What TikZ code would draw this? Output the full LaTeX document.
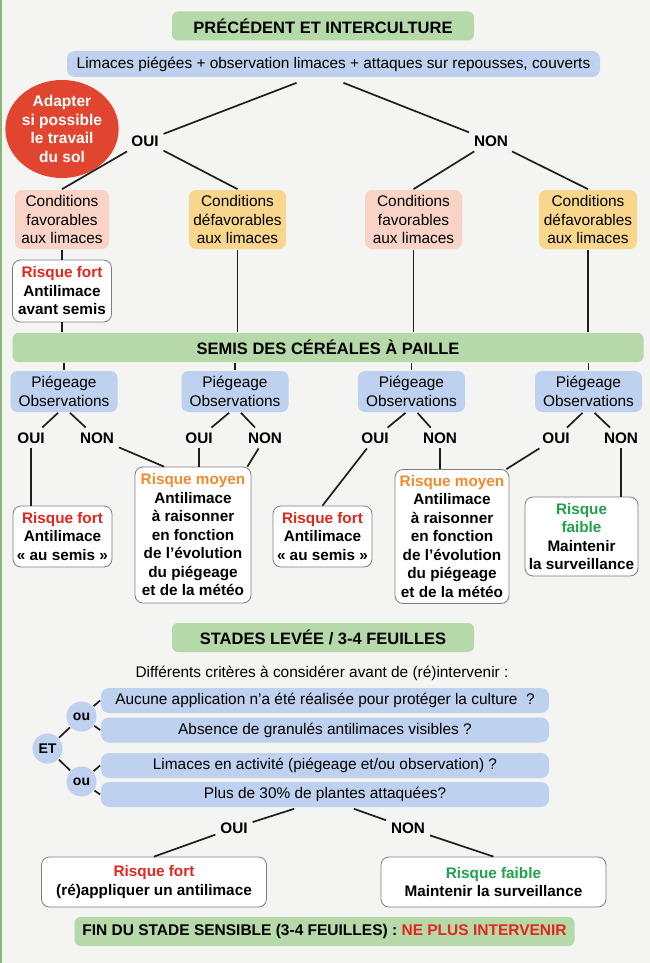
\documentclass[tikz,border=0pt]{standalone}
\usepackage{fontspec}
\setmainfont{Liberation Sans}
\usepackage{tikz}
\usetikzlibrary{shapes.geometric, positioning}
\definecolor{fond}{HTML}{F4F4F2}
\definecolor{vertetape}{HTML}{B6D9A9}
\definecolor{vertbord}{HTML}{86B874}
\definecolor{bleuq}{HTML}{BED1EF}
\definecolor{rosecond}{HTML}{F9D4C6}
\definecolor{jaunecond}{HTML}{F8D68C}
\definecolor{rougecercle}{HTML}{E1452F}
\definecolor{rougetxt}{HTML}{E4261C}
\definecolor{orangetxt}{HTML}{F28B2D}
\definecolor{verttxt}{HTML}{1FA24A}
\definecolor{grisbord}{HTML}{7E7E7E}
\definecolor{trait}{HTML}{1E1E1E}
\newcommand{\taille}[1]{\fontsize{#1}{18.5}\selectfont}
\tikzstyle{etape} = [rectangle, rounded corners=6pt, fill=vertetape, inner sep=0pt, minimum height=29pt, font=\bfseries\taille{16.5}]
\tikzstyle{question} = [rectangle, rounded corners=8pt, fill=bleuq, inner sep=0pt, minimum height=26pt, text centered]
\tikzstyle{condition} = [rectangle, rounded corners=7pt, inner sep=0pt, minimum height=59pt, align=center]
\tikzstyle{piegeage} = [rectangle, rounded corners=7pt, fill=bleuq, inner sep=0pt, minimum width=107pt, minimum height=41pt, align=center]
\tikzstyle{risque} = [rectangle, rounded corners=8pt, draw=grisbord, line width=0.8pt, fill=white, inner sep=0pt, align=center, font=\bfseries\taille{15.3}]
\tikzstyle{reponse} = [font=\bfseries\taille{15.3}, inner sep=2pt, outer sep=3pt]
\tikzstyle{bulle} = [circle, fill=bleuq, inner sep=0pt, minimum size=30pt, font=\bfseries\taille{14}]

\begin{document}
\begin{tikzpicture}[x=1pt, y=-1pt, line width=1.7pt, draw=trait, font=\taille{15.4}]
        \fill[fond] (0,0) rectangle (650,963);
        \fill[vertbord] (0,0) rectangle (2,963);
        \useasboundingbox (0,0) rectangle (650,963);

        \node[etape, minimum width=302pt] (precedent) at (323,26) {PRÉCÉDENT ET INTERCULTURE};
        \node[question, minimum width=533pt] (limaces) at (333.5,64) {Limaces piégées + observation limaces + attaques sur repousses, couverts};
        \node[ellipse, fill=rougecercle, inner sep=0pt, minimum width=100pt, minimum height=98pt, align=center, text=white, font=\bfseries\taille{15.5}] (adapter) at (62,129) {Adapter\\si possible\\le travail\\du sol};
        \node[reponse] (oui1) at (145,141) {OUI};
        \node[reponse] (non1) at (491,141) {NON};

        \node[condition, fill=rosecond, minimum width=94pt] (cond1) at (62,219.5) {Conditions\\favorables\\aux limaces};
        \node[condition, fill=jaunecond, minimum width=97pt] (cond2) at (237.5,219.5) {Conditions\\défavorables\\aux limaces};
        \node[condition, fill=rosecond, minimum width=97pt] (cond3) at (413.5,219.5) {Conditions\\favorables\\aux limaces};
        \node[condition, fill=jaunecond, minimum width=98pt] (cond4) at (588,219.5) {Conditions\\défavorables\\aux limaces};
        \node[risque, minimum width=99pt, minimum height=62pt] (avant) at (62,291) {\textcolor{rougetxt}{Risque fort}\\Antilimace\\avant semis};

        \node[etape, minimum width=631pt] (semis) at (328,347.5) {SEMIS DES CÉRÉALES À PAILLE};
        \node[piegeage] (piege1) at (64,391.5) {Piégeage\\Observations};
        \node[piegeage] (piege2) at (235,391.5) {Piégeage\\Observations};
        \node[piegeage] (piege3) at (411.5,391.5) {Piégeage\\Observations};
        \node[piegeage] (piege4) at (588.5,391.5) {Piégeage\\Observations};

        \node[reponse] (oui11) at (31,438) {OUI};
        \node[reponse] (non11) at (97,438) {NON};
        \node[reponse] (oui12) at (199,438) {OUI};
        \node[reponse] (non12) at (265,438) {NON};
        \node[reponse] (oui13) at (375,438) {OUI};
        \node[reponse] (non13) at (440,438) {NON};
        \node[reponse] (oui14) at (556,438) {OUI};
        \node[reponse] (non14) at (621,438) {NON};

        \node[risque, minimum width=99pt, minimum height=61pt] (fort1) at (62.5,536.5) {\textcolor{rougetxt}{Risque fort}\\Antilimace\\« au semis »};
        \node[risque, minimum width=116pt, minimum height=136pt] (moyen1) at (193,535) {\textcolor{orangetxt}{Risque moyen}\\Antilimace\\à raisonner\\en fonction\\de l’évolution\\du piégeage\\et de la météo};
        \node[risque, minimum width=99pt, minimum height=61pt] (fort2) at (322.5,536.5) {\textcolor{rougetxt}{Risque fort}\\Antilimace\\« au semis »};
        \node[risque, minimum width=114pt, minimum height=134pt] (moyen2) at (452,536.5) {\textcolor{orangetxt}{Risque moyen}\\Antilimace\\à raisonner\\en fonction\\de l’évolution\\du piégeage\\et de la météo};
        \node[risque, minimum width=113pt, minimum height=79pt] (faible1) at (581.5,536.5) {\textcolor{verttxt}{Risque}\\\textcolor{verttxt}{faible}\\Maintenir\\la surveillance};

        \node[etape, minimum width=302pt] (stades) at (323,637.5) {STADES LEVÉE / 3-4 FEUILLES};
        \node (criteres) at (322,673) {Différents critères à considérer avant de (ré)intervenir :};
        \node[question, minimum width=448pt, minimum height=25pt] (c1) at (325,700.5) {Aucune application n’a été réalisée pour protéger la culture~~?};
        \node[question, minimum width=448pt, minimum height=25pt] (c2) at (325,730) {Absence de granulés antilimaces visibles ?};
        \node[question, minimum width=448pt, minimum height=25pt] (c3) at (325,765.5) {Limaces en activité (piégeage et/ou observation) ?};
        \node[question, minimum width=448pt, minimum height=25pt] (c4) at (325,794.5) {Plus de 30\% de plantes attaquées?};
        \node[bulle] (ou1) at (81.5,716.5) {ou};
        \node[bulle] (ou2) at (81.5,781.5) {ou};
        \node[bulle] (et) at (47.5,748.5) {ET};

        \node[reponse] (ouif) at (234,828) {OUI};
        \node[reponse] (nonf) at (408,828) {NON};
        \node[risque, minimum width=225pt, minimum height=50pt] (fortf) at (154,882) {\textcolor{rougetxt}{Risque fort}\\(ré)appliquer un antilimace};
        \node[risque, minimum width=225pt, minimum height=50pt] (faiblef) at (493.5,882) {\textcolor{verttxt}{Risque faible}\\Maintenir la surveillance};
        \node[etape, minimum width=500pt, font=\bfseries\taille{15.5}] (fin) at (324.5,931.5) {FIN DU STADE SENSIBLE (3-4 FEUILLES) : \textcolor{rougetxt}{NE PLUS INTERVENIR}};

        \draw ([xshift=-37pt,yshift=-5pt]limaces.south) -- (oui1);
        \draw ([xshift=10pt,yshift=-5pt]limaces.south) -- (non1);
        \draw (oui1) -- (cond1.north);
        \draw (oui1) -- (cond2.north);
        \draw (non1) -- (cond3.north);
        \draw (non1) -- (cond4.north);
        \draw (cond1) -- (avant);
        \draw (avant) -- (avant |- semis.north);
        \draw (cond2) -- (cond2 |- semis.north);
        \draw (cond3) -- (cond3 |- semis.north);
        \draw (cond4) -- (cond4 |- semis.north);
        \draw (piege1 |- semis.south) -- (piege1);
        \draw (piege2 |- semis.south) -- (piege2);
        \draw (piege3 |- semis.south) -- (piege3);
        \draw (piege4 |- semis.south) -- (piege4);

        \draw ([xshift=-6pt]piege1.south) -- (oui11);
        \draw ([xshift=6pt]piege1.south) -- (non11);
        \draw ([xshift=-6pt]piege2.south) -- (oui12);
        \draw ([xshift=6pt]piege2.south) -- (non12);
        \draw ([xshift=-6pt]piege3.south) -- (oui13);
        \draw ([xshift=6pt]piege3.south) -- (non13);
        \draw ([xshift=-6pt]piege4.south) -- (oui14);
        \draw ([xshift=6pt]piege4.south) -- (non14);

        \draw (oui11) -- (oui11 |- fort1.north);
        \draw (non11) -- ([xshift=-29pt]moyen1.north);
        \draw (oui12) -- (oui12 |- moyen1.north);
        \draw (non12) -- ([xshift=-4pt]moyen1.north east);
        \draw (oui13) -- (fort2.north);
        \draw (non13) -- (non13 |- moyen2.north);
        \draw (oui14) -- ([xshift=-3pt]moyen2.north east);
        \draw (non14) -- (non14 |- faible1.north);

        \draw (et) -- (ou1);
        \draw (et) -- (ou2);
        \draw (ou1) -- (c1.west);
        \draw (ou1) -- (c2.west);
        \draw (ou2) -- (c3.west);
        \draw (ou2) -- (c4.west);

        \draw ([xshift=-31pt,yshift=-1pt]c4.south) -- (ouif);
        \draw ([xshift=29pt,yshift=-1pt]c4.south) -- (nonf);
        \draw (ouif) -- (fortf.north);
        \draw (nonf) -- (faiblef.north);
    \end{tikzpicture}
\end{document}
